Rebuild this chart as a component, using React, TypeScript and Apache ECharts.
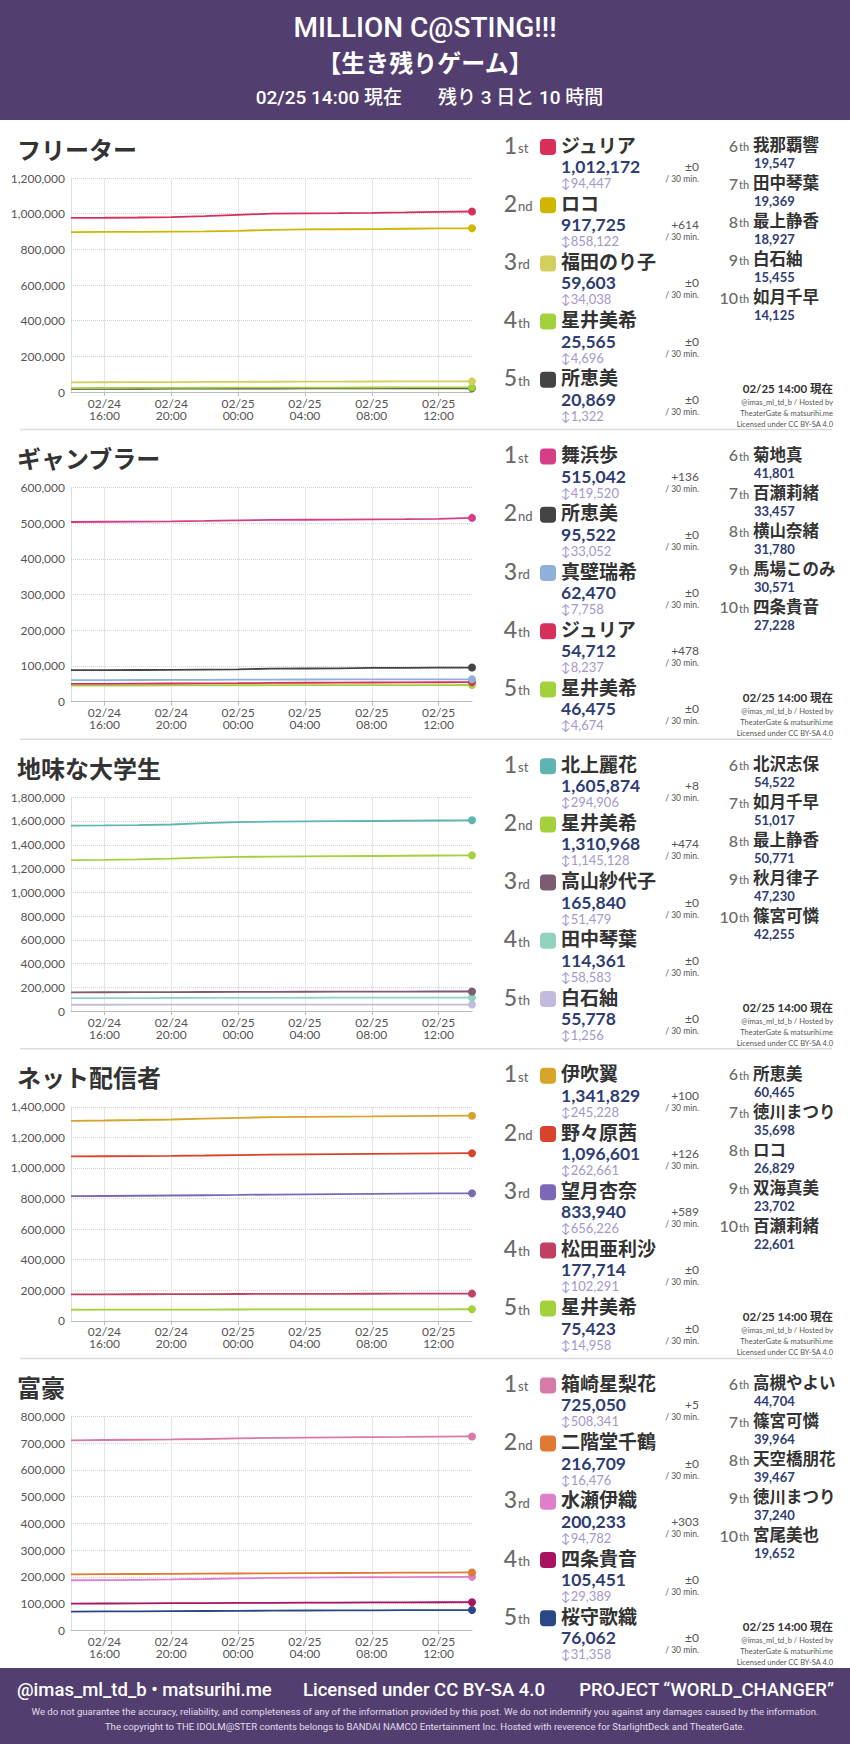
import React, { useEffect, useRef } from 'react';
import * as echarts from 'echarts';

// ---------- data ----------
const TIMES = [
  '02/24 14:00', '02/24 16:00', '02/24 18:00', '02/24 20:00', '02/24 22:00',
  '02/25 00:00', '02/25 02:00', '02/25 04:00', '02/25 06:00', '02/25 08:00',
  '02/25 10:00', '02/25 12:00', '02/25 14:00',
];
const LABELED_TIMES = ['02/24 16:00', '02/24 20:00', '02/25 00:00', '02/25 04:00', '02/25 08:00', '02/25 12:00'];

const HEADER_TITLE = 'MILLION C@STING!!!';
const HEADER_SUB = '【生き残りゲーム】';
const HEADER_DATE = '02/25 14:00 現在';
const HEADER_LEFT = '残り 3 日と 10 時間';

const PANEL_TITLES = ['フリーター', 'ギャンブラー', '地味な大学生', 'ネット配信者', '富豪'];
const Y_MAX = [1200000, 600000, 1800000, 1400000, 800000];
const Y_STEP = [200000, 100000, 200000, 200000, 100000];

// フリーター
const P1_NAMES = ['ジュリア', 'ロコ', '福田のり子', '星井美希', '所恵美'];
const P1_COLORS = ['#d6305a', '#cfb600', '#d3cf5e', '#a3d13c', '#444444'];
const P1_SERIES = [
  [976000, 977000, 978500, 981000, 986000, 993000, 1000500, 1002000, 1003000, 1004500, 1007000, 1010000, 1012172],
  [897000, 897500, 898000, 899000, 900500, 904000, 909500, 911500, 912500, 913500, 915500, 917000, 917725],
  [54200, 54800, 55300, 55700, 56400, 57100, 57600, 58100, 58300, 58900, 59200, 59500, 59603],
  [22100, 22400, 22900, 23200, 23800, 24100, 24600, 24800, 25000, 25300, 25400, 25500, 25565],
  [17500, 17800, 18300, 18600, 18900, 19300, 19500, 19900, 20100, 20300, 20600, 20800, 20869],
];
const P1_TOTALS = [1012172, 917725, 59603, 25565, 20869];
const P1_GAPS = [94447, 858122, 34038, 4696, 1322];
const P1_DELTAS = [0, 614, 0, 0, 0];
const P1_OTHER_NAMES = ['我那覇響', '田中琴葉', '最上静香', '白石紬', '如月千早'];
const P1_OTHER_VALUES = [19547, 19369, 18927, 15455, 14125];

// ギャンブラー
const P2_NAMES = ['舞浜歩', '所恵美', '真壁瑞希', 'ジュリア', '星井美希'];
const P2_COLORS = ['#d63d88', '#444444', '#8fb0d8', '#d6305a', '#a3d13c'];
const P2_SERIES = [
  [503500, 504200, 504800, 505300, 506500, 508200, 509300, 509800, 510300, 510900, 511500, 512200, 515042],
  [88200, 88400, 88600, 88900, 89700, 90600, 92300, 92800, 93400, 94300, 94800, 95200, 95522],
  [60100, 60300, 60600, 60900, 61100, 61400, 61700, 61900, 62100, 62200, 62300, 62400, 62470],
  [49600, 49900, 50300, 50800, 51200, 51700, 52300, 52800, 53200, 53600, 53900, 54200, 54712],
  [44800, 45000, 45200, 45400, 45600, 45800, 46000, 46100, 46200, 46300, 46400, 46450, 46475],
];
const P2_TOTALS = [515042, 95522, 62470, 54712, 46475];
const P2_GAPS = [419520, 33052, 7758, 8237, 4674];
const P2_DELTAS = [136, 0, 0, 478, 0];
const P2_OTHER_NAMES = ['菊地真', '百瀬莉緒', '横山奈緒', '馬場このみ', '四条貴音'];
const P2_OTHER_VALUES = [41801, 33457, 31780, 30571, 27228];

// 地味な大学生
const P3_NAMES = ['北上麗花', '星井美希', '高山紗代子', '田中琴葉', '白石紬'];
const P3_COLORS = ['#5db4b0', '#a3d13c', '#7d5b72', '#90d3c1', '#c3badf'];
const P3_SERIES = [
  [1561000, 1562500, 1565000, 1570500, 1582000, 1590500, 1595000, 1597000, 1598500, 1600000, 1602000, 1604000, 1605874],
  [1271000, 1273500, 1277000, 1284000, 1291500, 1297500, 1300500, 1302000, 1303800, 1305500, 1307500, 1309500, 1310968],
  [158500, 159300, 160000, 160800, 161500, 162200, 163000, 163600, 164200, 164700, 165200, 165600, 165840],
  [109500, 110000, 110600, 111100, 111600, 112100, 112600, 113000, 113400, 113700, 114000, 114200, 114361],
  [54200, 54400, 54600, 54800, 55000, 55100, 55300, 55400, 55500, 55600, 55700, 55750, 55778],
];
const P3_TOTALS = [1605874, 1310968, 165840, 114361, 55778];
const P3_GAPS = [294906, 1145128, 51479, 58583, 1256];
const P3_DELTAS = [8, 474, 0, 0, 0];
const P3_OTHER_NAMES = ['北沢志保', '如月千早', '最上静香', '秋月律子', '篠宮可憐'];
const P3_OTHER_VALUES = [54522, 51017, 50771, 47230, 42255];

// ネット配信者
const P4_NAMES = ['伊吹翼', '野々原茜', '望月杏奈', '松田亜利沙', '星井美希'];
const P4_COLORS = ['#d6a52a', '#d9432b', '#7c69b6', '#c03f62', '#a3d13c'];
const P4_SERIES = [
  [1308000, 1310500, 1313500, 1317000, 1322500, 1328000, 1332000, 1334000, 1335500, 1337000, 1339000, 1340500, 1341829],
  [1075500, 1076500, 1077800, 1079200, 1081500, 1084500, 1087500, 1089000, 1090500, 1092300, 1094000, 1095600, 1096601],
  [815500, 816600, 818000, 819600, 821400, 823600, 826000, 827600, 829000, 830200, 831600, 833000, 833940],
  [172500, 173000, 173600, 174100, 174700, 175300, 175800, 176200, 176600, 176900, 177200, 177500, 177714],
  [72300, 72600, 72900, 73200, 73600, 74000, 74300, 74600, 74800, 75000, 75200, 75350, 75423],
];
const P4_TOTALS = [1341829, 1096601, 833940, 177714, 75423];
const P4_GAPS = [245228, 262661, 656226, 102291, 14958];
const P4_DELTAS = [100, 126, 589, 0, 0];
const P4_OTHER_NAMES = ['所恵美', '徳川まつり', 'ロコ', '双海真美', '百瀬莉緒'];
const P4_OTHER_VALUES = [60465, 35698, 26829, 23702, 22601];

// 富豪
const P5_NAMES = ['箱崎星梨花', '二階堂千鶴', '水瀬伊織', '四条貴音', '桜守歌織'];
const P5_COLORS = ['#d87aa8', '#e07a32', '#df7fcb', '#a8145f', '#2b4886'];
const P5_SERIES = [
  [710500, 711800, 712800, 713800, 715500, 717600, 719400, 720600, 721500, 722200, 723100, 724100, 725050],
  [209800, 210300, 210900, 211500, 212100, 212700, 213400, 214000, 214600, 215100, 215700, 216300, 216709],
  [187500, 188300, 189200, 190400, 192200, 194800, 196400, 197300, 198000, 198600, 199200, 199800, 200233],
  [100200, 100600, 101100, 101600, 102100, 102700, 103200, 103700, 104100, 104500, 104900, 105200, 105451],
  [70200, 70800, 71400, 72000, 72600, 73200, 73800, 74300, 74800, 75200, 75600, 75900, 76062],
];
const P5_TOTALS = [725050, 216709, 200233, 105451, 76062];
const P5_GAPS = [508341, 16476, 94782, 29389, 31358];
const P5_DELTAS = [5, 0, 303, 0, 0];
const P5_OTHER_NAMES = ['高槻やよい', '篠宮可憐', '天空橋朋花', '徳川まつり', '宮尾美也'];
const P5_OTHER_VALUES = [44704, 39964, 39467, 37240, 19652];

const FOOTER_LEFT = '@imas_ml_td_b • matsurihi.me';
const FOOTER_MID = 'Licensed under CC BY-SA 4.0';
const FOOTER_RIGHT = 'PROJECT “WORLD_CHANGER”';
const DISCLAIMER_1 = 'We do not guarantee the accuracy, reliability, and completeness of any of the information provided by this post. We do not indemnify you against any damages caused by the information.';
const DISCLAIMER_2 = 'The copyright to THE IDOLM@STER contents belongs to BANDAI NAMCO Entertainment Inc. Hosted with reverence for StarlightDeck and TheaterGate.';
const STAMP_LINES = ['@imas_ml_td_b / Hosted by', 'TheaterGate & matsurihi.me', 'Licensed under CC BY-SA 4.0'];

const PANELS = [
  { names: P1_NAMES, colors: P1_COLORS, series: P1_SERIES, totals: P1_TOTALS, gaps: P1_GAPS, deltas: P1_DELTAS, otherNames: P1_OTHER_NAMES, otherValues: P1_OTHER_VALUES },
  { names: P2_NAMES, colors: P2_COLORS, series: P2_SERIES, totals: P2_TOTALS, gaps: P2_GAPS, deltas: P2_DELTAS, otherNames: P2_OTHER_NAMES, otherValues: P2_OTHER_VALUES },
  { names: P3_NAMES, colors: P3_COLORS, series: P3_SERIES, totals: P3_TOTALS, gaps: P3_GAPS, deltas: P3_DELTAS, otherNames: P3_OTHER_NAMES, otherValues: P3_OTHER_VALUES },
  { names: P4_NAMES, colors: P4_COLORS, series: P4_SERIES, totals: P4_TOTALS, gaps: P4_GAPS, deltas: P4_DELTAS, otherNames: P4_OTHER_NAMES, otherValues: P4_OTHER_VALUES },
  { names: P5_NAMES, colors: P5_COLORS, series: P5_SERIES, totals: P5_TOTALS, gaps: P5_GAPS, deltas: P5_DELTAS, otherNames: P5_OTHER_NAMES, otherValues: P5_OTHER_VALUES },
];

// ---------- layout / style ----------
const W = 850;
const H = 1744;
const HEADER_H = 120;
const PANEL_H = 309.6;
const FOOTER_Y = 1668;
const PURPLE = '#523f70';
const NAVY = '#2e3d73';
const GAP_COLOR = '#a597cc';
const RANK_COLOR = '#6a6a6a';
const LATIN = "Lato, 'Noto Sans CJK JP', sans-serif";
const JP = "'Noto Sans CJK JP', sans-serif";
const HEAD = "Roboto, 'Noto Sans CJK JP', sans-serif";

const fmt = (n: number) => n.toLocaleString('en-US');
const suffix = (n: number) => (n === 1 ? 'st' : n === 2 ? 'nd' : n === 3 ? 'rd' : 'th');

function txt(x: number, y: number, text: string, s: any) {
  return {
    type: 'text',
    x,
    y,
    silent: true,
    style: { text, verticalAlign: 'middle', align: 'left', ...s },
  };
}

function buildOption() {
  const grids: any[] = [];
  const xAxes: any[] = [];
  const yAxes: any[] = [];
  const series: any[] = [];
  const g: any[] = [];

  // header
  g.push({ type: 'rect', shape: { x: 0, y: 0, width: W, height: HEADER_H }, style: { fill: PURPLE }, silent: true });
  g.push(txt(W / 2, 27, HEADER_TITLE, { align: 'center', fill: '#fff', fontSize: 28, fontWeight: 500, fontFamily: HEAD }));
  g.push(txt(W / 2, 61, HEADER_SUB, { align: 'center', fill: '#fff', fontSize: 24, fontWeight: 'bold', fontFamily: JP }));
  g.push(txt(402, 97, HEADER_DATE, { align: 'right', fill: '#fff', fontSize: 19, fontWeight: 500, fontFamily: HEAD }));
  g.push(txt(438, 97, HEADER_LEFT, { align: 'left', fill: '#fff', fontSize: 19, fontWeight: 500, fontFamily: HEAD }));

  const isLabeled = (_i: number, v: string) => LABELED_TIMES.indexOf(v) >= 0;

  PANELS.forEach((p, k) => {
    const o = HEADER_H + k * PANEL_H;
    // title
    g.push(txt(17, o + 28, PANEL_TITLES[k], { fill: '#333', fontSize: 24, fontWeight: 'bold', fontFamily: JP }));

    grids.push({ left: 71, width: 401, top: o + 58, height: 214, containLabel: false });
    xAxes.push({
      type: 'category',
      gridIndex: k,
      data: TIMES,
      boundaryGap: false,
      axisLine: { lineStyle: { color: '#bbb', width: 1 } },
      axisTick: { show: true, interval: isLabeled, length: 4, lineStyle: { color: '#bbb' } },
      axisLabel: {
        interval: isLabeled,
        formatter: (v: string) => v.replace(' ', '\n'),
        color: '#555',
        fontSize: 12,
        lineHeight: 12,
        margin: 5,
        fontFamily: LATIN,
      },
      splitLine: { show: true, interval: isLabeled, lineStyle: { color: '#e4e4e4', width: 1 } },
    });
    yAxes.push({
      type: 'value',
      gridIndex: k,
      min: 0,
      max: Y_MAX[k],
      interval: Y_STEP[k],
      axisLine: { show: true, lineStyle: { color: '#ddd' } },
      axisTick: { show: false },
      axisLabel: { formatter: (v: number) => fmt(v), color: '#555', fontSize: 12, margin: 6, fontFamily: LATIN },
      splitLine: { show: true, lineStyle: { color: '#d4d4d4', type: 'dotted', width: 1 } },
    });
    p.series.forEach((data, i) => {
      series.push({
        type: 'line',
        name: p.names[i],
        xAxisIndex: k,
        yAxisIndex: k,
        data,
        silent: true,
        symbol: 'circle',
        showSymbol: true,
        showAllSymbol: true,
        symbolSize: (_v: any, prm: any) => (prm.dataIndex === TIMES.length - 1 ? 8 : 0),
        lineStyle: { color: p.colors[i], width: 1.8 },
        itemStyle: { color: p.colors[i] },
        z: 10 - i,
      });
    });

    // ranking 1-5
    p.names.forEach((name, i) => {
      const y = o + 27 + i * 58.2;
      g.push(txt(517, y + 9, String(i + 1), { align: 'right', verticalAlign: 'bottom', fill: RANK_COLOR, fontSize: 23, fontWeight: 500, fontFamily: LATIN }));
      g.push(txt(518, y + 7.5, suffix(i + 1), { align: 'left', verticalAlign: 'bottom', fill: RANK_COLOR, fontSize: 13, fontWeight: 500, fontFamily: LATIN }));
      g.push({ type: 'rect', silent: true, shape: { x: 540, y: y - 8, width: 16, height: 16, r: 4 }, style: { fill: p.colors[i] } });
      g.push(txt(561, y - 3, name, { fill: '#333', fontSize: 19, fontWeight: 'bold', fontFamily: JP }));
      g.push(txt(561, y + 19.5, fmt(p.totals[i]), { fill: NAVY, fontSize: 17.5, fontWeight: 'bold', fontFamily: LATIN }));
      g.push(txt(561, y + 36, '↕' + fmt(p.gaps[i]), { fill: GAP_COLOR, fontSize: 13, fontFamily: LATIN }));
      const d = p.deltas[i];
      g.push(txt(699, y + 19.5, d === 0 ? '±0' : '+' + fmt(d), { align: 'right', fill: '#555', fontSize: 12, fontFamily: LATIN }));
      g.push(txt(699, y + 32, '/ 30 min.', { align: 'right', fill: '#555', fontSize: 8.5, fontFamily: LATIN }));
    });

    // ranking 6-10
    p.otherNames.forEach((name, j) => {
      const y = o + 26 + j * 38;
      const r = j + 6;
      g.push(txt(738, y + 7, String(r), { align: 'right', verticalAlign: 'bottom', fill: RANK_COLOR, fontSize: 16, fontWeight: 500, fontFamily: LATIN }));
      g.push(txt(739, y + 6, 'th', { align: 'left', verticalAlign: 'bottom', fill: RANK_COLOR, fontSize: 11, fontWeight: 500, fontFamily: LATIN }));
      g.push(txt(753, y - 2, name, { fill: '#333', fontSize: 16.5, fontWeight: 'bold', fontFamily: JP }));
      g.push(txt(754, y + 17, fmt(p.otherValues[j]), { fill: NAVY, fontSize: 13, fontWeight: 'bold', fontFamily: LATIN }));
    });

    // stamp
    g.push(txt(833, o + 268, HEADER_DATE, { align: 'right', fill: '#333', fontSize: 11.5, fontWeight: 'bold', fontFamily: LATIN }));
    STAMP_LINES.forEach((line, j) => {
      g.push(txt(833, o + 282 + j * 11, line, { align: 'right', fill: '#555', fontSize: 7.5, fontFamily: LATIN }));
    });

    if (k < PANELS.length - 1) {
      g.push({ type: 'line', silent: true, shape: { x1: 20, y1: o + PANEL_H, x2: 832, y2: o + PANEL_H }, style: { stroke: '#dcdcdc', lineWidth: 1.5 } });
    }
  });

  // footer
  g.push({ type: 'rect', silent: true, shape: { x: 0, y: FOOTER_Y, width: W, height: H - FOOTER_Y }, style: { fill: PURPLE } });
  g.push(txt(17, 1690, FOOTER_LEFT, { fill: '#fff', fontSize: 18.5, fontWeight: 500, fontFamily: HEAD }));
  g.push(txt(424, 1690, FOOTER_MID, { align: 'center', fill: '#fff', fontSize: 18.5, fontWeight: 500, fontFamily: HEAD }));
  g.push(txt(834, 1690, FOOTER_RIGHT, { align: 'right', fill: '#fff', fontSize: 18.5, fontWeight: 500, fontFamily: HEAD }));
  g.push(txt(W / 2, 1711, DISCLAIMER_1, { align: 'center', fill: '#e2dcec', fontSize: 9.6, fontFamily: HEAD }));
  g.push(txt(W / 2, 1726, DISCLAIMER_2, { align: 'center', fill: '#e2dcec', fontSize: 9.6, fontFamily: HEAD }));

  return {
    animation: false,
    backgroundColor: '#ffffff',
    grid: grids,
    xAxis: xAxes,
    yAxis: yAxes,
    series,
    graphic: { elements: g },
  };
}

export default function App() {
  const ref = useRef<HTMLDivElement>(null);
  useEffect(() => {
    document.body.style.margin = '0';
    if (!ref.current) return;
    const chart = echarts.init(ref.current, undefined, { renderer: 'svg' });
    chart.setOption(buildOption() as any);
    return () => chart.dispose();
  }, []);
  return <div ref={ref} style={{ width: W, height: H, background: '#fff' }} />;
}
